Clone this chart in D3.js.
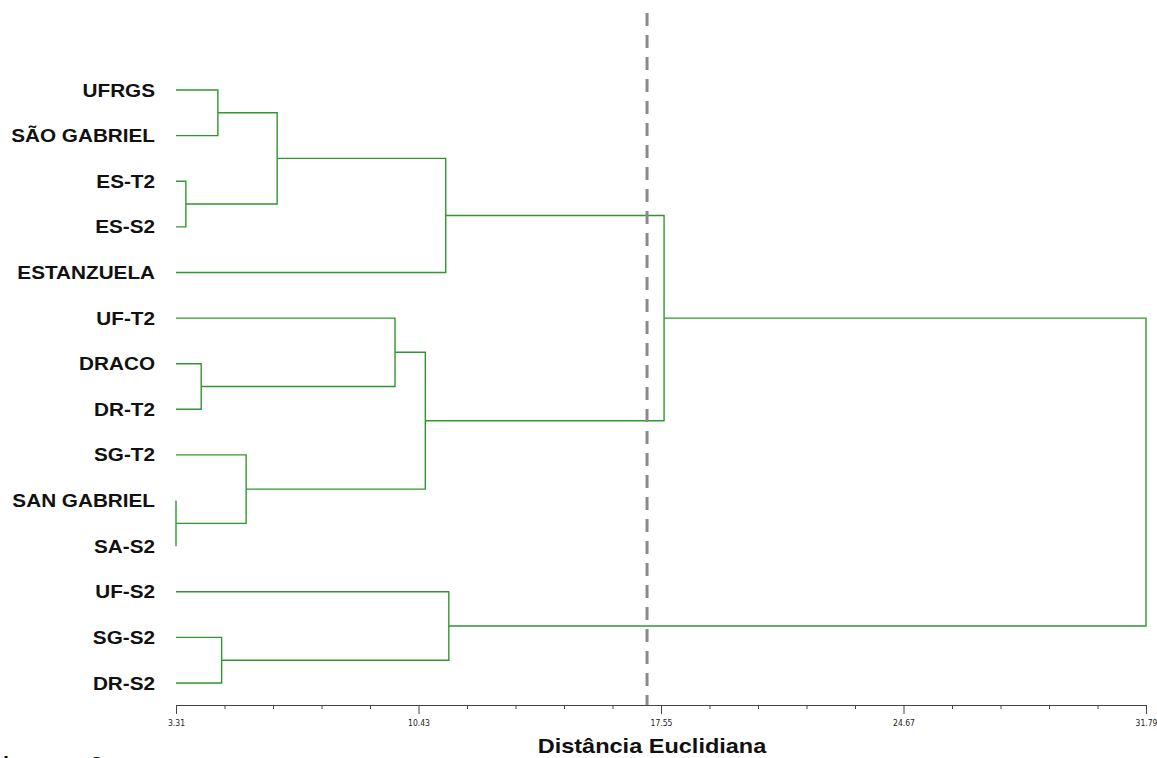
<!DOCTYPE html>
<html>
<head>
<meta charset="utf-8">
<script src="https://cdn.jsdelivr.net/npm/d3@7"></script>
<style>
  body { margin: 0; background: #fff; }
  svg { display: block; }
</style>
</head>
<body>
<div id="chart"></div>
<script>
// leaves, top to bottom
const leaves = ["UFRGS", "SÃO GABRIEL", "ES-T2", "ES-S2", "ESTANZUELA", "UF-T2", "DRACO",
  "DR-T2", "SG-T2", "SAN GABRIEL", "SA-S2", "UF-S2", "SG-S2", "DR-S2"];

// merges: [child a, child b, distance]; nodes 0-13 are leaves, new node ids start at 14
const merges = [
  [9, 10, 3.31],
  [2, 3, 3.60],
  [6, 7, 4.05],
  [0, 1, 4.54],
  [12, 13, 4.65],
  [8, 14, 5.37],
  [17, 15, 6.28],
  [5, 16, 9.74],
  [21, 19, 10.63],
  [20, 4, 11.23],
  [11, 18, 11.32],
  [23, 22, 17.64],
  [25, 24, 31.79]
];

const majorTicks = [3.31, 10.43, 17.55, 24.67, 31.79];
const cutValue = 17.14;
const axisTitle = "Distância Euclidiana";

const width = 1157, height = 758;
const svg = d3.select("#chart").append("svg")
  .attr("width", width)
  .attr("height", height);

const x = d3.scaleLinear().domain([3.31, 31.79]).range([176, 1146]);
const y = d3.scalePoint().domain(leaves).range([90, 683]);
const axisY = 705;

// position of every node (leaf or cluster)
const nodes = leaves.map(function (name) {
  return { y: y(name), h: 3.31 };
});
merges.forEach(function (m) {
  nodes.push({ y: (nodes[m[0]].y + nodes[m[1]].y) / 2, h: m[2] });
});

const green = "#2f972f";
const g = svg.append("g")
  .attr("fill", "none")
  .attr("stroke", green)
  .attr("stroke-width", 1.4);

merges.forEach(function (m) {
  const a = nodes[m[0]], b = nodes[m[1]];
  const xh = x(m[2]);
  g.append("path")
    .attr("d", `M${x(a.h)},${a.y}H${xh}V${b.y}H${x(b.h)}`);
});

// leaf labels
svg.append("g")
  .selectAll("text")
  .data(leaves)
  .join("text")
  .attr("transform", function (d) { return `translate(155,${y(d) + 6.5}) scale(1.12,1)`; })
  .attr("text-anchor", "end")
  .style("font-family", "Liberation Sans, Arial, sans-serif")
  .style("font-weight", "bold")
  .style("font-size", "18.5px")
  .style("fill", "#111")
  .text(function (d) { return d; });

// bottom axis: major ticks with labels, minor ticks in between
const step = (majorTicks[1] - majorTicks[0]) / 5;
const minorTicks = d3.range(0, 21).map(function (i) { return majorTicks[0] + i * step; })
  .filter(function (v, i) { return i % 5 !== 0; });

const axisMajor = svg.append("g")
  .attr("transform", `translate(0,${axisY})`)
  .call(d3.axisBottom(x).tickValues(majorTicks).tickSize(9).tickSizeOuter(0)
    .tickPadding(6).tickFormat(d3.format(".2f")));
axisMajor.select(".domain").attr("stroke", "#444");
axisMajor.selectAll(".tick line").attr("stroke", "#444");
axisMajor.selectAll(".tick text")
  .style("font-family", "DejaVu Sans Condensed, sans-serif")
  .style("font-size", "8.5px")
  .style("fill", "#222");

const axisMinor = svg.append("g")
  .attr("transform", `translate(0,${axisY})`)
  .call(d3.axisBottom(x).tickValues(minorTicks).tickSize(4).tickFormat(""));
axisMinor.select(".domain").remove();
axisMinor.selectAll(".tick line").attr("stroke", "#444");

// cut line
svg.append("line")
  .attr("x1", x(cutValue)).attr("x2", x(cutValue))
  .attr("y1", 13).attr("y2", axisY)
  .attr("stroke", "#8a8a8a")
  .attr("stroke-width", 3)
  .attr("stroke-dasharray", "13,9");

// axis title
svg.append("text")
  .attr("transform", `translate(652,753) scale(1.12,1)`)
  .attr("text-anchor", "middle")
  .style("font-family", "Liberation Sans, Arial, sans-serif")
  .style("font-weight", "bold")
  .style("font-size", "21px")
  .style("fill", "#111")
  .text(axisTitle);

// caption cut off by the bottom edge
svg.append("text")
  .attr("transform", `translate(3,771) scale(1.08,1)`)
  .style("font-family", "Liberation Sans, Arial, sans-serif")
  .style("font-weight", "bold")
  .style("font-size", "20px")
  .style("fill", "#111")
  .text("imagem 2");
</script>
</body>
</html>
